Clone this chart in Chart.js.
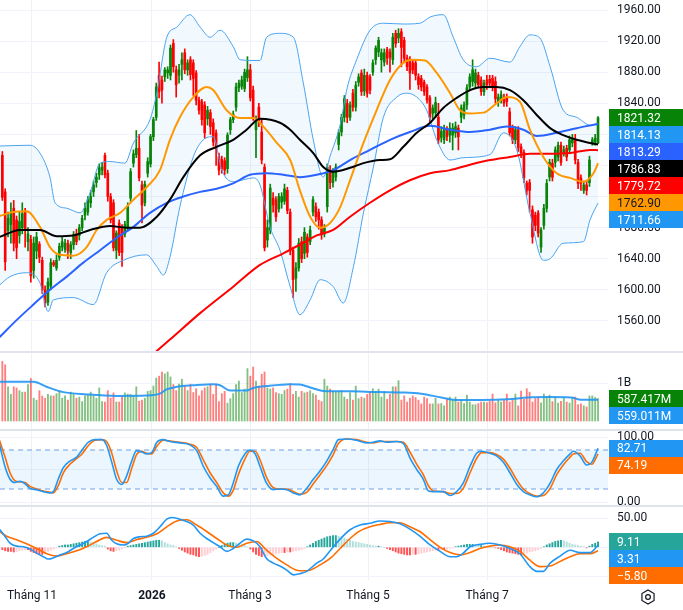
<!DOCTYPE html>
<html>
<head>
<meta charset="utf-8">
<script src="https://cdn.jsdelivr.net/npm/chart.js@4.4.1/dist/chart.umd.min.js"></script>
<style>
  html, body { margin: 0; padding: 0; background: #fff; }
  #wrap { position: relative; width: 683px; height: 610px; overflow: hidden; }
  #wrap canvas { position: absolute; left: 0; }
  .sep { position: absolute; left: 0; width: 683px; height: 2px; background: #e0e3eb; }
</style>
</head>
<body>
<div id="wrap">
  <canvas id="price_chart" width="683" height="352" style="top:0;width:683px;height:352px"></canvas>
  <canvas id="volume_chart" width="683" height="78" style="top:352px;width:683px;height:78px"></canvas>
  <canvas id="stoch_chart" width="683" height="76" style="top:430px;width:683px;height:76px"></canvas>
  <canvas id="macd_chart" width="683" height="104" style="top:506px;width:683px;height:104px"></canvas>
  <div class="sep" style="top:351px"></div>
  <div class="sep" style="top:429px"></div>
  <div class="sep" style="top:505px"></div>
</div>
<script>
// time axis (candle index)
const monthIdx = [10.4, 52.5, 86.9, 128.3, 170.1];
const monthLabels = ['Tháng 11', '2026', 'Tháng 3', 'Tháng 5', 'Tháng 7'];
const priceTicks = [1560, 1600, 1640, 1680, 1720, 1760, 1800, 1840, 1880, 1920, 1960];

// candles
const opens = [
  1773,1726,1676,1684,1705,1690,1670,1680,1700,1662,1665,1625,1650,1659,1638,
  1600,1584,1605,1635,1628,1642,1655,1652,1660,1648,1658,1672,1670,1680,1696,
  1700,1712,1726,1738,1748,1754,1773,1750,1720,1712,1651,1686,1681,1672,1680,
  1718,1763,1774,1782,1735,1712,1750,1762,1797,1822,1876,1870,1874,1879,1876,
  1917,1883,1876,1890,1905,1883,1896,1892,1879,1844,1842,1838,1820,1828,1815,
  1802,1771,1768,1766,1756,1806,1819,1835,1860,1862,1859,1873,1883,1857,1806,
  1835,1803,1758,1664,1677,1718,1716,1704,1713,1714,1728,1700,1651,1615,1628,
  1662,1647,1668,1662,1700,1707,1700,1690,1672,1707,1752,1738,1745,1787,1803,
  1822,1840,1822,1853,1835,1867,1879,1856,1876,1874,1880,1896,1906,1896,1893,
  1909,1906,1896,1930,1924,1932,1921,1898,1896,1892,1892,1874,1872,1867,1861,
  1847,1827,1828,1822,1796,1793,1806,1799,1799,1802,1808,1822,1825,1838,1861,
  1868,1866,1876,1870,1855,1870,1871,1872,1868,1842,1844,1848,1848,1829,1808,
  1793,1806,1784,1777,1737,1738,1703,1696,1699,1655,1683,1705,1745,1763,1764,
  1771,1786,1776,1782,1780,1789,1793,1764,1744,1728,1735,1738,1789,1790,1789
];
const highs = [
  1778,1730,1700,1712,1715,1695,1700,1712,1705,1680,1670,1668,1674,1662,1642,
  1605,1615,1640,1638,1645,1660,1668,1665,1664,1662,1675,1678,1684,1696,1712,
  1720,1728,1740,1750,1762,1764,1776,1754,1724,1716,1676,1690,1684,1688,1712,
  1756,1780,1805,1800,1740,1740,1770,1800,1822,1866,1893,1875,1886,1887,1915,
  1922,1888,1890,1905,1910,1896,1900,1896,1882,1848,1845,1842,1836,1832,1820,
  1806,1776,1772,1770,1802,1822,1830,1866,1870,1875,1884,1900,1890,1862,1824,
  1840,1820,1762,1690,1736,1725,1720,1724,1725,1736,1732,1704,1655,1635,1666,
  1668,1680,1672,1682,1720,1712,1704,1694,1684,1762,1760,1756,1762,1806,1826,
  1850,1845,1842,1858,1868,1878,1883,1884,1880,1877,1896,1914,1925,1910,1910,
  1912,1910,1930,1934,1936,1936,1925,1902,1900,1896,1896,1878,1876,1870,1864,
  1850,1838,1848,1840,1810,1812,1810,1815,1814,1816,1812,1838,1842,1864,1878,
  1896,1884,1880,1874,1870,1876,1876,1876,1874,1852,1856,1852,1852,1834,1812,
  1810,1810,1788,1780,1740,1742,1708,1700,1702,1680,1710,1742,1768,1768,1784,
  1790,1790,1785,1786,1798,1800,1800,1768,1748,1740,1740,1772,1796,1800,1823
];
const lows = [
  1715,1625,1668,1660,1650,1640,1660,1672,1655,1650,1610,1615,1640,1635,1595,
  1578,1580,1600,1630,1625,1638,1650,1648,1640,1640,1652,1658,1664,1676,1690,
  1696,1706,1720,1732,1742,1748,1744,1714,1686,1650,1640,1644,1630,1668,1676,
  1714,1758,1770,1740,1686,1708,1745,1758,1792,1818,1847,1840,1868,1872,1870,
  1880,1848,1866,1870,1878,1876,1870,1850,1838,1826,1812,1795,1812,1800,1785,
  1760,1748,1750,1748,1750,1800,1815,1830,1855,1858,1855,1868,1843,1818,1770,
  1810,1762,1650,1655,1672,1700,1688,1700,1705,1710,1698,1645,1590,1598,1624,
  1635,1640,1642,1658,1695,1688,1678,1665,1668,1700,1730,1732,1740,1780,1798,
  1816,1815,1818,1830,1830,1862,1850,1850,1848,1852,1876,1890,1900,1880,1888,
  1890,1880,1890,1912,1918,1887,1893,1882,1858,1878,1870,1858,1856,1850,1840,
  1815,1820,1822,1788,1790,1788,1792,1790,1780,1796,1780,1815,1820,1832,1856,
  1862,1860,1860,1850,1850,1858,1860,1856,1840,1836,1840,1836,1836,1798,1788,
  1788,1778,1770,1738,1722,1700,1660,1676,1668,1648,1678,1700,1740,1740,1758,
  1766,1760,1772,1766,1775,1784,1762,1730,1728,1724,1722,1733,1786,1786,1788
];
const closes = [
  1719,1636,1692,1700,1660,1654,1688,1698,1678,1672,1618,1660,1668,1642,1600,
  1583,1610,1635,1632,1638,1656,1662,1660,1650,1658,1671,1662,1680,1692,1705,
  1716,1720,1735,1745,1757,1758,1748,1720,1690,1654,1673,1648,1648,1684,1707,
  1752,1775,1782,1744,1709,1736,1765,1797,1819,1861,1855,1857,1883,1883,1911,
  1887,1864,1883,1896,1883,1892,1877,1872,1844,1831,1819,1802,1831,1810,1790,
  1782,1754,1756,1754,1799,1819,1826,1861,1866,1870,1880,1883,1847,1822,1819,
  1816,1767,1654,1680,1731,1709,1694,1720,1720,1730,1702,1651,1613,1628,1660,
  1640,1674,1648,1677,1716,1694,1690,1671,1680,1758,1738,1752,1758,1802,1822,
  1846,1822,1838,1835,1863,1874,1855,1876,1853,1857,1892,1911,1921,1905,1905,
  1898,1899,1925,1917,1930,1912,1898,1887,1879,1883,1876,1864,1861,1855,1844,
  1822,1834,1841,1793,1804,1806,1797,1808,1808,1810,1797,1834,1838,1860,1874,
  1883,1879,1864,1855,1866,1864,1866,1861,1846,1848,1851,1840,1842,1802,1793,
  1806,1783,1776,1744,1728,1728,1668,1683,1673,1677,1705,1737,1764,1745,1780,
  1786,1764,1780,1771,1793,1795,1767,1737,1737,1735,1728,1767,1793,1795,1821.32
];

// volume, millions
const volumes = [
  1570,1480,900,700,900,870,800,760,760,960,1120,600,550,800,660,
  600,700,660,660,720,780,600,660,550,760,700,600,630,510,660,
  700,760,660,600,870,510,500,800,600,740,500,500,650,740,710,
  700,660,900,520,550,600,780,800,920,1130,1180,1290,1240,1290,1160,
  960,800,970,1100,920,800,970,750,850,660,800,870,900,970,700,
  970,510,720,780,470,590,720,960,1050,750,840,1380,1180,1420,1050,
  920,1230,1290,870,840,870,750,720,700,800,840,980,700,780,630,
  780,740,760,800,720,680,550,510,1100,920,840,780,760,780,800,
  630,570,750,550,920,590,630,600,700,760,850,780,840,630,780,
  570,700,900,900,1060,550,660,500,600,660,620,550,450,630,590,
  450,450,600,450,460,400,590,630,570,630,500,550,460,680,500,
  430,430,460,500,500,480,520,710,480,550,500,550,710,500,550,
  710,400,790,570,850,760,500,590,620,480,710,620,680,510,630,
  470,520,620,500,470,620,630,430,450,400,370,660,660,620,587.417
];
const volumeMA = [[-1,1030],[11,1030],[15.5,900],[21.4,760],[29.6,700],[40,660],[50.6,670],[55.3,720],[57.6,830],[61.2,900],[67,940],[74,970],[76.4,940],[79.9,800],[85.7,800],[88,870],[92.7,920],[101,970],[104.4,960],[109,860],[112.7,790],[122,780],[131.7,760],[141,750],[146.9,720],[154,620],[159.8,550],[168,550],[177.4,570],[184.4,620],[191.4,630],[199.6,620],[203,560],[209,559.011]];

// overlays on price, [candle index, value]
const bbUpper = [[-1,1785],[9.7,1786],[13.2,1776],[16.7,1745],[18.5,1712],[22.6,1705],[27.3,1699],[30.8,1725],[34.3,1763],[37.8,1765],[43,1763],[46,1789],[51.8,1819],[54.2,1853],[57.7,1925],[61.2,1938],[65.8,1954],[69.4,1938],[72.9,1925],[76.4,1934],[81,1913],[83.4,1896],[90.4,1895],[92.7,1925],[97.4,1930],[102.1,1925],[105.6,1866],[109.1,1793],[112.6,1745],[115,1772],[118.5,1812],[121,1860],[124.3,1896],[129,1934],[133.7,1943],[140.7,1942],[146.5,1943],[150.1,1951],[154.7,1954],[158.2,1925],[161.7,1896],[166.4,1887],[171.1,1898],[178.1,1893],[181.6,1913],[185.1,1928],[188.6,1924],[192.2,1887],[196.8,1831],[201.5,1822],[206.2,1812],[209,1814.13]];
const bbBasis = [[-1,1695],[3.9,1700],[8.5,1701],[13.2,1681],[16.7,1655],[20.2,1645],[24.9,1644],[29.6,1655],[33.1,1677],[36.6,1690],[41.3,1699],[46,1716],[50.6,1732],[55.3,1754],[58.8,1793],[62.3,1822],[67,1848],[71.7,1861],[74,1857],[78.7,1831],[83.4,1821],[88.1,1821],[91.6,1810],[96.3,1789],[101,1767],[104.4,1728],[108,1694],[111.5,1680],[115,1686],[118.5,1706],[122,1741],[126.7,1789],[131.3,1831],[136,1870],[140.7,1892],[144.2,1896],[148.3,1895],[152.4,1879],[157.1,1853],[160.6,1831],[164.1,1827],[168.8,1828],[173.4,1840],[177,1848],[181.6,1842],[185.1,1806],[189.8,1771],[194.5,1750],[199.2,1744],[203.9,1739],[207.4,1750],[209,1762.90]];
const bbLower = [[-1,1606],[2.7,1617],[8.5,1622],[13.2,1609],[16.1,1572],[17.9,1587],[24.9,1590],[31.9,1581],[36.6,1622],[42.5,1638],[50.6,1645],[54.2,1630],[56.5,1619],[58.8,1642],[62.3,1707],[67,1771],[70.5,1793],[74,1797],[77,1754],[81,1739],[88.1,1744],[90.4,1735],[93.9,1681],[97.4,1651],[101,1604],[104.4,1568],[108,1587],[111.5,1613],[116.1,1604],[119.6,1583],[123.2,1630],[126.7,1699],[130.2,1758],[133.7,1822],[138.4,1848],[141.9,1853],[145.4,1848],[148.9,1831],[152.4,1793],[157.1,1767],[161.7,1770],[171.1,1774],[175.8,1802],[180.5,1780],[185.1,1699],[189.8,1638],[192.2,1640],[196.8,1660],[203.9,1662],[206.2,1690],[209,1711.66]];
const ma50 = [[-1,1668],[6.2,1677],[13.2,1677],[19.1,1669],[24.9,1670],[30.8,1677],[37.8,1682],[43.6,1680],[48.3,1680],[54.2,1694],[58.8,1716],[63.5,1745],[69.4,1773],[75.2,1784],[81,1793],[85.7,1806],[90.4,1820],[97.4,1815],[101,1806],[104.4,1793],[109.1,1776],[112.6,1758],[116.1,1752],[122,1757],[126.7,1763],[132.5,1767],[136,1768],[140.7,1784],[145.4,1802],[150.1,1815],[154.7,1834],[159.4,1847],[164.1,1857],[168.8,1861],[173.4,1861],[178.1,1857],[182.8,1844],[187.5,1825],[192.2,1808],[196.8,1799],[201.5,1793],[206.2,1789],[209,1786.83]];
const ma100 = [[-1,1539],[5,1561],[10.9,1581],[16.7,1600],[22.6,1617],[28.4,1635],[34.3,1651],[40.1,1667],[46,1681],[51.8,1699],[57.7,1712],[63.5,1720],[69.4,1726],[75.2,1730],[81,1737],[86.9,1748],[92.7,1750],[98.6,1748],[104.4,1745],[110.3,1748],[116.1,1754],[122,1767],[129,1780],[136,1793],[143,1803],[150.1,1811],[157.1,1806],[164.1,1803],[171.1,1806],[177,1810],[182.8,1806],[187.5,1798],[194.5,1802],[201.5,1808],[209,1813.29]];
const ma200 = [[50,1508],[58.8,1536],[69.4,1570],[81,1604],[90.4,1632],[98.6,1647],[104.4,1658],[110.3,1670],[116.1,1677],[122,1694],[129,1712],[136,1728],[143,1741],[150.1,1750],[157.1,1754],[164.1,1761],[171.1,1767],[178.1,1771],[185.1,1775],[192.2,1775],[199.2,1776],[206.2,1780],[209,1779.72]];

// stochastic
const stochK = [[-1,89],[0.9,55],[2.7,35],[4.4,30],[6.2,32],[8,28],[9.7,21],[12,19],[14.4,16],[16.7,14],[17.9,16],[19.6,35],[21.4,53],[23.7,63],[26.1,69],[27.8,79],[30.2,92],[32.5,96],[34.9,96],[36.6,87],[38.4,61],[40.1,35],[41.9,27],[43.6,40],[45.4,63],[47.1,79],[48.9,77],[50.6,74],[52.4,76],[54.2,92],[56.5,96],[58.8,93],[62.3,91],[65.8,88],[68.2,79],[70.5,55],[72.9,37],[75.2,24],[77.5,9],[79.3,11],[81,29],[82.8,55],[85.1,74],[86.9,80],[88.7,74],[90.4,55],[92.7,29],[95.1,19],[97.4,20],[99.8,19],[102.1,14],[104.4,11],[106.8,21],[109.1,35],[111.5,48],[113.8,63],[116.1,81],[117.9,96],[120.8,97],[124.3,95],[127.8,91],[130.2,92],[132.5,94],[134.8,92],[138.4,93],[140.7,90],[143,68],[145.4,50],[147.7,35],[149.5,17],[151.2,16],[154.7,16],[157.1,10],[159.4,16],[161.7,29],[164.1,55],[166.4,75],[168.2,78],[171.1,75],[173.4,71],[175.8,61],[178.1,45],[180.5,27],[182.8,16],[185.1,11],[187.5,8],[189.8,14],[192.2,29],[194.5,50],[196.8,63],[199.2,74],[200.3,78],[202.7,71],[205,57],[206.8,61],[209,82.71]];
const stochD = [[-1,95],[0.9,70],[2.7,45],[4.4,33],[6.2,31],[8,30],[9.7,24],[12,20],[14.4,17],[16.7,15],[17.9,14],[19.6,25],[21.4,45],[23.7,58],[26.1,67],[27.8,73],[30.2,87],[32.5,95],[34.9,96],[36.6,93],[38.4,75],[40.1,48],[41.9,30],[43.6,30],[45.4,52],[47.1,73],[48.9,78],[50.6,75],[52.4,74],[54.2,86],[56.5,95],[58.8,94],[62.3,92],[65.8,89],[68.2,84],[70.5,65],[72.9,45],[75.2,30],[77.5,14],[79.3,9],[81,18],[82.8,42],[85.1,66],[86.9,78],[88.7,78],[90.4,65],[92.7,38],[95.1,22],[97.4,20],[99.8,20],[102.1,16],[104.4,12],[106.8,15],[109.1,28],[111.5,42],[113.8,56],[116.1,73],[117.9,90],[120.8,97],[124.3,96],[127.8,92],[130.2,91],[132.5,93],[134.8,93],[138.4,93],[140.7,92],[143,77],[145.4,58],[147.7,42],[149.5,25],[151.2,17],[154.7,16],[157.1,13],[159.4,13],[161.7,21],[164.1,45],[166.4,67],[168.2,76],[171.1,76],[173.4,73],[175.8,66],[178.1,52],[180.5,34],[182.8,20],[185.1,13],[187.5,9],[189.8,10],[192.2,21],[194.5,42],[196.8,57],[199.2,69],[200.3,74],[202.7,75],[205,62],[206.8,58],[209,74.19]];
const stochBand = [80, 20];

// MACD
const macdLine = [[-1,31],[0.9,19],[2.7,7],[5,2],[7.4,1],[9.7,-3],[12,-10],[14.4,-16],[16.1,-20],[17.9,-18],[20.2,-13],[22.6,-9],[24.9,-2],[27.3,4],[29.6,10],[31.9,17],[34.3,23],[36.6,24],[38.4,12],[40.1,6],[42.5,4],[44.2,7],[46,15],[48.3,18],[50.6,19],[53,24],[55.3,35],[57.7,48],[59.4,51],[62.3,48],[64.7,44],[67,38],[69.4,24],[71.7,15],[74,8],[76.4,1],[78.7,-7],[81,-2],[83.4,7],[85.7,14],[88.1,11],[90.4,1],[92.7,-19],[95.1,-27],[97.4,-32],[99.8,-39],[102.1,-47],[104.4,-45],[106.8,-41],[110.3,-27],[112.6,-20],[115,-6],[118.5,14],[122,30],[125.5,38],[129,41],[132.5,45],[136,44],[139.5,40],[143,31],[146.5,19],[150.1,4],[153.6,-7],[157.1,-16],[159.4,-16],[161.7,-10],[164.1,1],[167.6,5],[171.1,7],[174.6,4],[178.1,-2],[181.6,-11],[185.1,-33],[187.5,-41],[189.8,-41],[192.2,-27],[195.7,-15],[199.2,-5],[202.7,-9],[206.2,-9],[209,3.31]];
const signalLine = [[-1,27],[1.5,19],[5,13],[8.5,6],[12,-2],[15.6,-11],[19.1,-15],[22.6,-11],[26.1,-6],[29.6,1],[33.1,10],[36.6,17],[40.1,12],[43.6,8],[47.1,13],[50.6,17],[54.2,23],[57.7,35],[61.2,45],[64.7,47],[68.2,38],[71.7,27],[75.2,15],[78.7,4],[82.2,0],[85.7,7],[89.2,10],[92.7,-5],[96.3,-19],[99.8,-30],[103.3,-39],[105.6,-40],[107.9,-39],[111.5,-30],[115,-19],[118.5,-2],[122,15],[125.5,28],[129,35],[132.5,39],[136,42],[139.5,42],[143,35],[146.5,27],[150.1,13],[153.6,0],[157.1,-9],[160.6,-13],[164.1,-9],[167.6,-2],[171.1,2],[174.6,4],[178.1,1],[181.6,-7],[185.1,-22],[188.6,-33],[192.2,-32],[195.7,-24],[199.2,-16],[202.7,-11],[206.2,-11],[209,-5.80]];
const macdHist = [
  -4,-6,-7,-7,-8,-7,-6,-5,-4,-4,
  -7,-9,-11,-12,-12,-10,-7,-5,-3,-1,
  2,3,4,4,5,6,7,8,9,10,
  10,9,8,6,4,3,2,-3,-6,-7,
  -6,-5,-3,-1,2,3,4,5,6,7,
  8,9,10,11,12,12,11,8,6,4,
  3,1,-2,-5,-8,-10,-12,-13,-15,-16,
  -15,-14,-12,-9,-6,-3,0,3,5,7,
  8,8,7,6,5,3,1,-3,-8,-12,
  -14,-16,-15,-14,-13,-12,-11,-10,-9,-9,
  -8,-8,-7,-6,-5,-4,-2,1,4,7,
  10,12,14,16,18,19,20,20,19,18,
  16,14,12,10,9,8,7,6,5,4,
  3,2,2,1,0,-2,-4,-6,-8,-10,
  -11,-12,-13,-13,-12,-12,-11,-10,-9,-8,
  -7,-6,-5,-5,-4,-4,-3,-2,-1,1,
  2,3,4,5,5,5,4,3,3,2,
  1,1,0,-1,-2,-4,-6,-8,-9,-10,
  -11,-12,-13,-12,-10,-8,-7,-6,-4,-2,
  1,4,6,8,10,11,12,11,9,7,
  5,4,3,2,1,-1,2,5,7,9.11
];

const X_MIN = -0.82, X_MAX = 212.5;
const UP = '#078307', DOWN = '#ff0000';
const AXIS_W = 75;

Chart.defaults.font.family = "Roboto, 'Noto Sans', 'DejaVu Sans', sans-serif";
Chart.defaults.font.size = 12;
Chart.defaults.color = '#131722';

function pts(arr) { return arr.map(([x, y]) => ({ x, y })); }
function last(arr) { const v = arr[arr.length - 1]; return Array.isArray(v) ? v[1] : v; }

function xAxis(withLabels) {
  return {
    type: 'linear', min: X_MIN, max: X_MAX, bounds: 'data', offset: false,
    afterBuildTicks: s => { s.ticks = monthIdx.map(v => ({ value: v })); },
    afterFit: s => {
      s.height = withLabels ? 30 : 0;
      s.paddingLeft = 0; s.paddingRight = 0; s.paddingTop = 0; s.paddingBottom = 0;
    },
    grid: { color: '#eef1f6', drawTicks: false, offset: false },
    border: { display: false },
    ticks: {
      display: withLabels, autoSkip: false, maxRotation: 0, padding: 9, color: '#131722',
      callback: (v, i) => monthLabels[i],
      font: c => ({ size: 12, weight: (c.tick && c.tick.value === monthIdx[1]) ? 'bold' : 'normal' })
    }
  };
}

function yAxis(min, max, tickVals, fmt) {
  return {
    position: 'right', min, max, bounds: 'data',
    afterBuildTicks: s => { s.ticks = tickVals.map(v => ({ value: v })); },
    afterFit: s => {
      s.width = AXIS_W;
      s.paddingTop = 0; s.paddingBottom = 0; s.paddingLeft = 0; s.paddingRight = 0;
    },
    grid: { color: '#f0f3fa', drawTicks: false },
    border: { display: false },
    ticks: { padding: 9, autoSkip: false, color: '#131722', callback: v => fmt(v) }
  };
}

function lineSet(data, color, width, extra) {
  return Object.assign({
    type: 'line', data: pts(data), borderColor: color, borderWidth: width,
    pointRadius: 0, pointHoverRadius: 0, cubicInterpolationMode: 'monotone', fill: false
  }, extra || {});
}

// value badges on the right axis, pushed down when they overlap
function badges(items) {
  return {
    id: 'badges',
    afterDraw(chart) {
      const ctx = chart.ctx, h = 17, x0 = chart.chartArea.right + 1;
      const list = items.map(b => Object.assign({}, b, { y: chart.scales.y.getPixelForValue(b.value) }))
        .sort((a, b) => a.y - b.y);
      let prev = -Infinity;
      ctx.save();
      list.forEach(b => {
        const cy = Math.max(b.y, prev + h / 2);
        prev = cy + h / 2;
        ctx.fillStyle = b.bg;
        ctx.fillRect(x0, Math.round(cy - h / 2), chart.width - x0, h);
        ctx.fillStyle = b.fg || '#ffffff';
        ctx.font = "12px Roboto, 'Noto Sans', sans-serif";
        ctx.textAlign = 'left';
        ctx.textBaseline = 'middle';
        ctx.fillText(b.text, chart.chartArea.right + 9, Math.round(cy) + 0.5);
      });
      ctx.restore();
    }
  };
}

function baseOptions(yCfg, withLabels) {
  return {
    responsive: false, animation: false, events: [],
    layout: { padding: 0 },
    datasets: { bar: { grouped: false, borderWidth: 0 } },
    plugins: { legend: { display: false }, tooltip: { enabled: false }, filler: { drawTime: 'beforeDatasetsDraw' } },
    scales: { x: xAxis(withLabels), y: yCfg }
  };
}

const candleColors = closes.map((c, i) => c >= opens[i] ? UP : DOWN);
const fmt2 = v => v.toFixed(2);
const fmtSigned = v => (v < 0 ? '\u2212' + Math.abs(v).toFixed(2) : v.toFixed(2));

// price pane
new Chart(document.getElementById('price_chart'), {
  type: 'bar',
  data: {
    datasets: [
      { type: 'bar', data: lows.map((l, i) => ({ x: i, y: [l, highs[i]] })), backgroundColor: candleColors, barThickness: 1, order: 20 },
      { type: 'bar', data: opens.map((o, i) => ({ x: i, y: [o, closes[i]] })), backgroundColor: candleColors, barThickness: 2, minBarLength: 1, order: 19 },
      lineSet(bbUpper, '#4aa3f0', 1, { order: 8 }),
      lineSet(bbLower, '#4aa3f0', 1, { order: 7, fill: '-1', backgroundColor: 'rgba(33,150,243,0.06)' }),
      lineSet(ma200, '#ff0000', 2, { order: 6 }),
      lineSet(ma100, '#2962ff', 2, { order: 5 }),
      lineSet(bbBasis, '#ff9800', 2, { order: 4 }),
      lineSet(ma50, '#000000', 2, { order: 3 })
    ]
  },
  options: baseOptions(yAxis(1520, 1972.9, priceTicks, fmt2), false),
  plugins: [badges([
    { value: last(closes), text: fmt2(last(closes)), bg: UP },
    { value: last(bbUpper), text: fmt2(last(bbUpper)), bg: '#2196f3' },
    { value: last(ma100), text: fmt2(last(ma100)), bg: '#2962ff' },
    { value: last(ma50), text: fmt2(last(ma50)), bg: '#000000' },
    { value: last(ma200), text: fmt2(last(ma200)), bg: '#ff0000' },
    { value: last(bbBasis), text: fmt2(last(bbBasis)), bg: '#ff9800', fg: '#131722' },
    { value: last(bbLower), text: fmt2(last(bbLower)), bg: '#2196f3' }
  ])]
});

// volume pane
new Chart(document.getElementById('volume_chart'), {
  type: 'bar',
  data: {
    datasets: [
      { type: 'bar', data: volumes.map((v, i) => ({ x: i, y: v })), backgroundColor: candleColors.map(c => c === UP ? 'rgba(7,131,7,0.5)' : 'rgba(255,0,0,0.5)'), barThickness: 1.2, order: 2 },
      lineSet(volumeMA, 'rgba(33,150,243,0.9)', 2, { order: 1 })
    ]
  },
  options: baseOptions(yAxis(-237, 1816, [1000], v => v === 1000 ? '1B' : ''), false),
  plugins: [badges([
    { value: last(volumes), text: last(volumes).toFixed(3) + 'M', bg: UP },
    { value: last(volumeMA), text: last(volumeMA).toFixed(3) + 'M', bg: '#2196f3' }
  ])]
});

// stochastic pane
new Chart(document.getElementById('stoch_chart'), {
  type: 'line',
  data: {
    datasets: [
      lineSet([[X_MIN, stochBand[0]], [X_MAX, stochBand[0]]], '#6f9fe6', 1, { borderDash: [5, 4], order: 5 }),
      lineSet([[X_MIN, stochBand[1]], [X_MAX, stochBand[1]]], '#6f9fe6', 1, { borderDash: [5, 4], order: 4, fill: '-1', backgroundColor: 'rgba(33,150,243,0.09)' }),
      lineSet(stochD, '#ff6d00', 1.6, { order: 2 }),
      lineSet(stochK, '#2196f3', 1.6, { order: 1 })
    ]
  },
  options: baseOptions(yAxis(-6.15, 110.8, [0, 50, 100], fmt2), false),
  plugins: [badges([
    { value: last(stochK), text: fmt2(last(stochK)), bg: '#2196f3' },
    { value: last(stochD), text: fmt2(last(stochD)), bg: '#ff6d00' }
  ])]
});

// MACD pane
const histColors = macdHist.map((h, i) => {
  const prev = i > 0 ? macdHist[i - 1] : h;
  if (h >= 0) return h >= prev ? '#26a69a' : '#b2dfdb';
  return h <= prev ? '#ff5252' : '#ffcdd2';
});
const gearIcon = {
  id: 'gear',
  afterDraw(chart) {
    const ctx = chart.ctx, cx = 648, cy = chart.height - 13, r = 7;
    ctx.save();
    ctx.strokeStyle = '#131722';
    ctx.lineWidth = 1.2;
    ctx.beginPath();
    for (let k = 0; k < 6; k++) {
      const a = Math.PI / 6 + k * Math.PI / 3;
      const px = cx + r * Math.cos(a), py = cy + r * Math.sin(a);
      if (k === 0) ctx.moveTo(px, py); else ctx.lineTo(px, py);
    }
    ctx.closePath();
    ctx.stroke();
    ctx.beginPath();
    ctx.arc(cx, cy, 2.4, 0, Math.PI * 2);
    ctx.stroke();
    ctx.restore();
  }
};
new Chart(document.getElementById('macd_chart'), {
  type: 'bar',
  data: {
    datasets: [
      { type: 'bar', data: macdHist.map((h, i) => ({ x: i, y: h })), backgroundColor: histColors, barThickness: 1.3, order: 3 },
      lineSet(signalLine, '#ff6d00', 1.6, { order: 2 }),
      lineSet(macdLine, '#2196f3', 1.6, { order: 1 })
    ]
  },
  options: baseOptions(yAxis(-55.8, 70.5, [-50, 0, 50], fmt2), true),
  plugins: [badges([
    { value: last(macdHist), text: fmt2(last(macdHist)), bg: '#26a69a' },
    { value: last(macdLine), text: fmtSigned(last(macdLine)), bg: '#2196f3' },
    { value: last(signalLine), text: fmtSigned(last(signalLine)), bg: '#ff6d00' }
  ]), gearIcon]
});
</script>
</body>
</html>
